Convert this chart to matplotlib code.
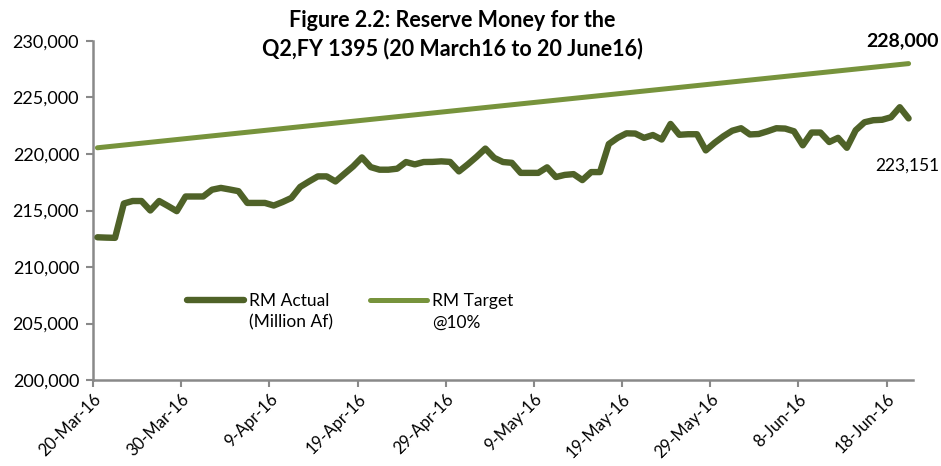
import matplotlib
matplotlib.use("Agg")
import matplotlib.pyplot as plt
import matplotlib.dates as mdates
from matplotlib.ticker import FuncFormatter
import pandas as pd
import numpy as np

plt.rcParams['font.family'] = ['Lato', 'DejaVu Sans']

# ---- data ----
start_date = "2016-03-20"
end_date = "2016-06-20"
rm_actual = [
    212630, 212600, 212580, 215620, 215840, 215840, 215000, 215840, 215400, 214940,
    216240, 216240, 216240, 216840, 217000, 216860, 216710, 215670, 215670, 215670,
    215440, 215750, 216110, 217090, 217570, 218020, 218020, 217570, 218240, 218900,
    219700, 218840, 218610, 218610, 218700, 219290, 219080, 219290, 219300, 219350,
    219300, 218460, 219080, 219750, 220480, 219660, 219290, 219220, 218330, 218330,
    218330, 218820, 217960, 218150, 218220, 217690, 218400, 218400, 220880, 221430,
    221830, 221810, 221430, 221680, 221280, 222660, 221700, 221750, 221750, 220320,
    220990, 221570, 222060, 222280, 221730, 221770, 222010, 222280, 222250, 222010,
    220770, 221900, 221900, 221060, 221430, 220550, 222100, 222810, 222990, 223030,
    223250, 224140, 223151,
]
target_dates = ["2016-03-20", "2016-06-20"]
rm_target = [220550, 228000]
tick_dates = ["2016-03-20", "2016-03-30", "2016-04-09", "2016-04-19", "2016-04-29",
              "2016-05-09", "2016-05-19", "2016-05-29", "2016-06-08", "2016-06-18"]
y_ticks = [200000, 205000, 210000, 215000, 220000, 225000, 230000]
series_labels = ["RM Actual\n(Million Af)", "RM Target\n@10%"]
title_lines = "Figure 2.2: Reserve Money for the\nQ2,FY 1395 (20 March16 to 20 June16)"
end_target_label = "228,000"
end_actual_label = "223,151"

# ---- plot ----
dates = pd.date_range(start_date, end_date, freq="D") + pd.Timedelta(hours=12)
tdates = pd.to_datetime(target_dates) + pd.Timedelta(hours=12)

fig = plt.figure(figsize=(9.41, 4.66), dpi=100)
ax = fig.add_axes([93/941, 1-380/466, (913-93)/941, (380-41)/466])

c_act = "#4F6228"
c_tgt = "#77933C"
l1, = ax.plot(dates, rm_actual, color=c_act, lw=4.6, solid_joinstyle="round",
              solid_capstyle="round", label=series_labels[0], zorder=3)
l2, = ax.plot(tdates, rm_target, color=c_tgt, lw=3.6, solid_capstyle="round",
              label=series_labels[1], zorder=2)

ax.set_xlim(pd.Timestamp(start_date), pd.Timestamp(end_date) + pd.Timedelta(days=1))
ax.set_ylim(200000, 230000)
ax.set_yticks(y_ticks)
ax.yaxis.set_major_formatter(FuncFormatter(lambda v, p: f"{int(v):,}"))
ax.set_xticks(pd.to_datetime(tick_dates))
ax.xaxis.set_major_formatter(FuncFormatter(
    lambda v, p: f"{mdates.num2date(v).day}-{mdates.num2date(v).strftime('%b-%y')}"))

for s in ["top", "right"]:
    ax.spines[s].set_visible(False)
for s in ["left", "bottom"]:
    ax.spines[s].set_color("#898989")
    ax.spines[s].set_linewidth(1.8)
ax.tick_params(axis="both", colors="#898989", width=1.5, length=5,
               labelcolor="black")
ax.tick_params(axis="y", labelsize=13, pad=5)
ax.tick_params(axis="x", labelsize=12, pad=3)
plt.setp(ax.get_xticklabels(), rotation=45, ha="right", rotation_mode="anchor")

fig.text(0.481, 0.925, title_lines, ha="center", va="center", fontsize=15.5,
         fontweight="bold", linespacing=1.4)

ax.annotate(end_target_label, (tdates[-1], rm_target[-1]), xytext=(22, 10),
            textcoords="offset points", ha="right", va="bottom", fontsize=14,
            fontweight="bold")
ax.annotate(end_actual_label, (dates[-1], rm_actual[-1]), xytext=(22, -34),
            textcoords="offset points", ha="right", va="center", fontsize=12.5)

leg = ax.legend(handles=[l1, l2], loc="upper left", bbox_to_anchor=(0.106, 0.278),
                ncol=2, frameon=False, fontsize=12.5, handlelength=3.3,
                handletextpad=0.3, columnspacing=2.1, borderaxespad=0)
for t in leg.get_texts():
    t.set_linespacing(1.45)
for ln in leg.get_lines():
    ln.set_ydata(np.asarray(ln.get_ydata()) + 8.5)

fig.savefig("out.png", dpi=100)
